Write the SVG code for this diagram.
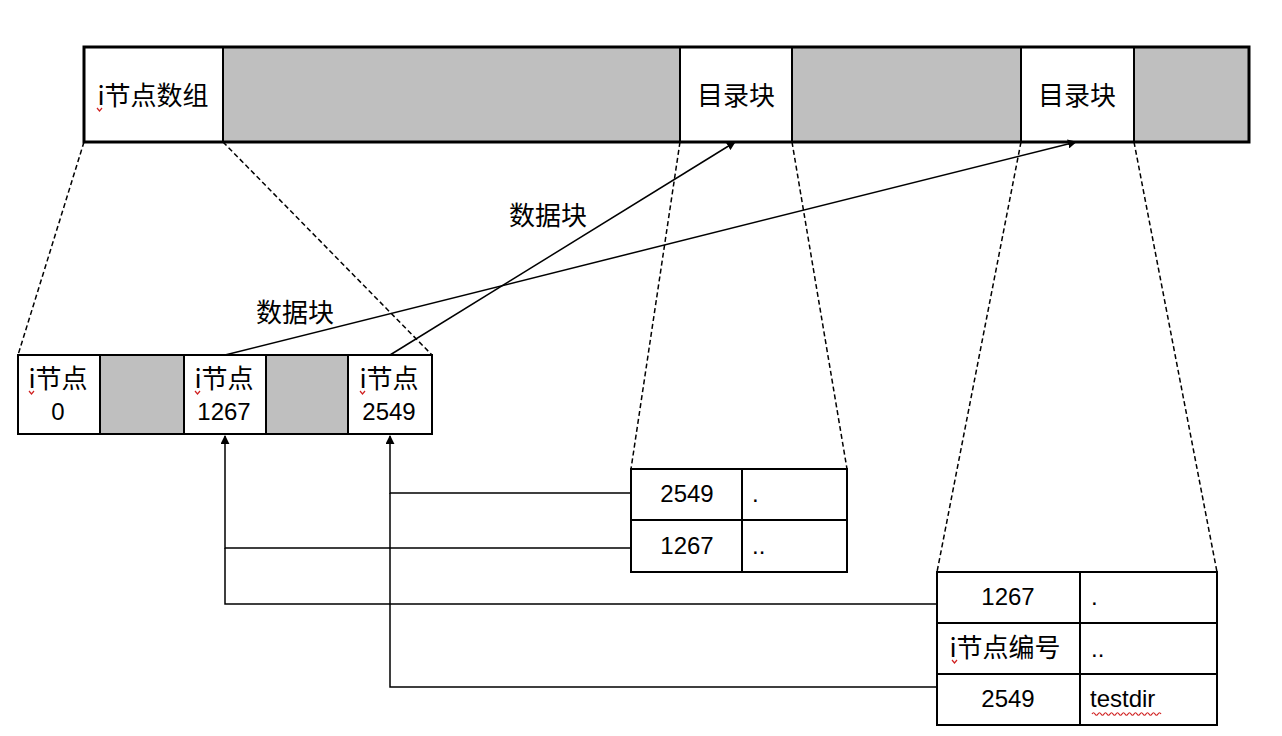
<svg xmlns="http://www.w3.org/2000/svg" width="1282" height="736" viewBox="0 0 1282 736">
  <style>
    .cell { stroke: #000; stroke-width: 2; }
    .w { fill: #fff; }
    .g { fill: #bfbfbf; }
    .t { font-family: "Noto Sans CJK SC", "Liberation Sans", sans-serif; font-size: 26px; fill: #000; }
    .n { font-family: "Liberation Sans", "Noto Sans CJK SC", sans-serif; font-size: 24px; fill: #000; }
    .dash { stroke: #000; stroke-width: 1.5; stroke-dasharray: 5 3; fill: none; }
    .link { stroke: #000; stroke-width: 1.5; fill: none; }
    .sq { stroke: #d02020; stroke-width: 1.2; fill: none; }
  </style>
  <defs>
    <marker id="arrow" viewBox="0 0 10 10" refX="9" refY="5" markerWidth="9" markerHeight="9" markerUnits="userSpaceOnUse" orient="auto">
      <path d="M0,0 L10,5 L0,10 z" fill="#000"/>
    </marker>
  </defs>
  <rect width="1282" height="736" fill="#fff"/>

  <!-- disk layout bar -->
  <g id="disk">
    <rect class="cell w" x="84" y="47" width="139" height="95"/>
    <rect class="cell g" x="223" y="47" width="457" height="95"/>
    <rect class="cell w" x="680" y="47" width="112" height="95"/>
    <rect class="cell g" x="792" y="47" width="229" height="95"/>
    <rect class="cell w" x="1021" y="47" width="113" height="95"/>
    <rect class="cell g" x="1134" y="47" width="115" height="95"/>
    <rect x="84" y="47" width="1165" height="95" fill="none" stroke="#000" stroke-width="3"/>
    <text class="t" x="153" y="105" text-anchor="middle">i节点数组</text>
    <path class="sq" d="M97,108 l2.5,3 l2.5,-3"/>
    <text class="t" x="736" y="105" text-anchor="middle">目录块</text>
    <text class="t" x="1077" y="105" text-anchor="middle">目录块</text>
  </g>

  <!-- inode array -->
  <g id="inodes">
    <rect class="cell w" x="18" y="355" width="82" height="79"/>
    <rect class="cell g" x="100" y="355" width="84" height="79"/>
    <rect class="cell w" x="184" y="355" width="82" height="79"/>
    <rect class="cell g" x="266" y="355" width="82" height="79"/>
    <rect class="cell w" x="348" y="355" width="84" height="79"/>
    <text class="t" x="58" y="388" text-anchor="middle">i节点</text>
    <path class="sq" d="M29,391 l2.5,3 l2.5,-3"/>
    <text class="n" x="58" y="420" text-anchor="middle">0</text>
    <text class="t" x="224" y="388" text-anchor="middle">i节点</text>
    <path class="sq" d="M195,391 l2.5,3 l2.5,-3"/>
    <text class="n" x="224" y="420" text-anchor="middle">1267</text>
    <text class="t" x="389" y="388" text-anchor="middle">i节点</text>
    <path class="sq" d="M360,391 l2.5,3 l2.5,-3"/>
    <text class="n" x="389" y="420" text-anchor="middle">2549</text>
  </g>

  <!-- directory block of testdir -->
  <g id="dir1">
    <rect class="cell w" x="631" y="469" width="216" height="103"/>
    <line class="cell" x1="631" y1="520" x2="847" y2="520"/>
    <line class="cell" x1="742" y1="469" x2="742" y2="572"/>
    <text class="n" x="687" y="502" text-anchor="middle">2549</text>
    <text class="n" x="752" y="502">.</text>
    <text class="n" x="687" y="554" text-anchor="middle">1267</text>
    <text class="n" x="752" y="554">..</text>
  </g>

  <!-- directory block of parent -->
  <g id="dir2">
    <rect class="cell w" x="937" y="572" width="280" height="153"/>
    <line class="cell" x1="937" y1="623" x2="1217" y2="623"/>
    <line class="cell" x1="937" y1="674" x2="1217" y2="674"/>
    <line class="cell" x1="1080" y1="572" x2="1080" y2="725"/>
    <text class="n" x="1008" y="605" text-anchor="middle">1267</text>
    <text class="n" x="1091" y="605">.</text>
    <text class="t" x="1005" y="657" text-anchor="middle">i节点编号</text>
    <path class="sq" d="M952,660 l2.5,3 l2.5,-3"/>
    <text class="n" x="1091" y="657">..</text>
    <text class="n" x="1008" y="707" text-anchor="middle">2549</text>
    <text class="n" x="1090" y="707">testdir</text>
    <path class="sq" d="M1092,714 q1.5,-2.5 3,0 t3,0 t3,0 t3,0 t3,0 t3,0 t3,0 t3,0 t3,0 t3,0 t3,0 t3,0 t3,0 t3,0 t3,0 t3,0 t3,0 t3,0 t3,0 t3,0 t3,0 t3,0 t3,0"/>
  </g>

  <!-- labels -->
  <g id="labels">
    <text class="t" x="548" y="225" text-anchor="middle">数据块</text>
    <text class="t" x="295" y="322" text-anchor="middle">数据块</text>
  </g>

  <!-- connectors -->
  <g id="connectors">
    <line class="dash" x1="84" y1="142" x2="18" y2="355"/>
    <line class="dash" x1="223" y1="142" x2="432" y2="355"/>
    <line class="dash" x1="680" y1="142" x2="631" y2="469"/>
    <line class="dash" x1="792" y1="142" x2="847" y2="469"/>
    <line class="dash" x1="1021" y1="142" x2="937" y2="572"/>
    <line class="dash" x1="1134" y1="142" x2="1217" y2="572"/>
    <line class="link" x1="225" y1="355" x2="1076" y2="142" marker-end="url(#arrow)"/>
    <line class="link" x1="390" y1="355" x2="735" y2="142" marker-end="url(#arrow)"/>
    <polyline class="link" points="631,493 390,493 390,436" marker-end="url(#arrow)"/>
    <polyline class="link" points="631,548 225,548 225,436" marker-end="url(#arrow)"/>
    <polyline class="link" points="937,604 225,604 225,548"/>
    <polyline class="link" points="937,687 390,687 390,493"/>
  </g>
</svg>
